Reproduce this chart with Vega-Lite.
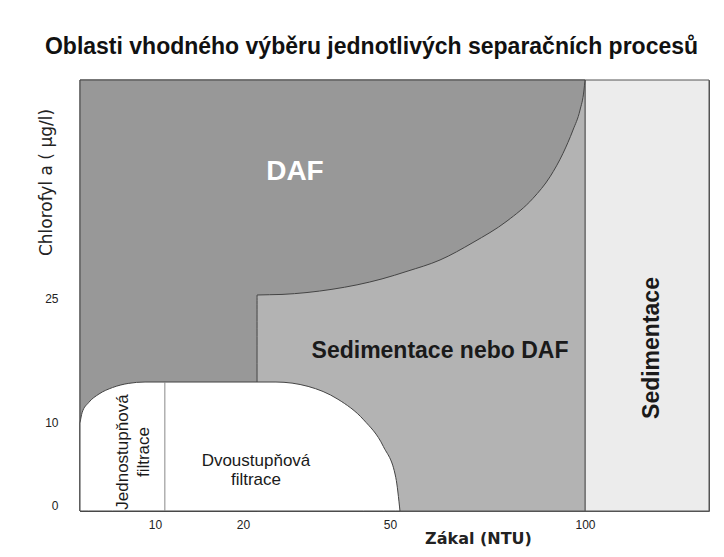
{
  "$schema": "https://vega.github.io/schema/vega-lite/v6.json",
  "width": 629,
  "height": 431,
  "autosize": {"type": "none"},
  "padding": {"left": 80, "top": 80, "right": 15, "bottom": 46},
  "background": "white",
  "config": {
    "view": {"stroke": "#555", "strokeWidth": 1},
    "font": "Liberation Sans"
  },
  "title": {
    "text": "Oblasti vhodného výběru jednotlivých separačních procesů",
    "font": "Liberation Sans",
    "fontSize": 23,
    "fontWeight": "bold",
    "color": "#111",
    "anchor": "middle",
    "dx": -23,
    "baseline": "alphabetic",
    "offset": 1
  },
  "encoding": {
    "x": {
      "field": "x",
      "type": "quantitative",
      "scale": {"domain": [0, 10, 20, 50, 100, 133], "range": [0, 75, 163, 310, 505, 629], "nice": false, "zero": false},
      "axis": {
        "values": [10, 20, 50, 100],
        "ticks": false,
        "domain": false,
        "grid": false,
        "labelFont": "Liberation Sans",
        "labelFontSize": 12,
        "labelColor": "#222",
        "labelPadding": 8,
        "title": "Zákal (NTU)",
        "titleFont": "DejaVu Sans",
        "titleFontSize": 16,
        "titleFontWeight": "bold",
        "titleColor": "#222",
        "titleX": 398,
        "titleY": 27,
        "titleBaseline": "middle",
        "titleAlign": "center"
      }
    },
    "y": {
      "field": "lo",
      "type": "quantitative",
      "scale": {"domain": [-0.7, 51.5], "nice": false, "zero": false},
      "axis": {
        "values": [0, 10, 25],
        "ticks": false,
        "domain": false,
        "grid": false,
        "labelFont": "Liberation Sans",
        "labelFontSize": 12,
        "labelColor": "#222",
        "labelPadding": 22,
        "title": "Chlorofyl a ( µg/l)",
        "titleFont": "DejaVu Sans",
        "titleFontSize": 17,
        "titleFontWeight": "normal",
        "titleColor": "#222",
        "titleAngle": 270,
        "titleX": -34,
        "titleY": 102,
        "titleAlign": "center",
        "titleBaseline": "middle"
      }
    }
  },
  "layer": [
    {
      "data": {"values": [
        {"region": "Sedimentace", "x": 100, "x2": 133, "lo": -0.7, "hi": 51.5},
        {"region": "Sedimentace nebo DAF", "x": 0, "x2": 100, "lo": -0.7, "hi": 51.5}
      ]},
      "mark": {"type": "rect", "stroke": "#555", "strokeWidth": 1},
      "encoding": {
        "x2": {"field": "x2"},
        "y2": {"field": "hi"},
        "color": {
          "field": "region",
          "type": "nominal",
          "scale": {"domain": ["Sedimentace", "Sedimentace nebo DAF"], "range": ["#ececec", "#b3b3b3"]},
          "legend": null
        }
      }
    },
    {
      "data": {"values": [
        {"x": 0, "lo": -0.7, "hi": 51.5},
        {"x": 22.85, "lo": -0.7, "hi": 51.5},
        {"x": 22.87, "lo": 25.46, "hi": 51.5},
        {"x": 27.96, "lo": 25.53, "hi": 51.5},
        {"x": 33.06, "lo": 25.76, "hi": 51.5},
        {"x": 38.16, "lo": 26.15, "hi": 51.5},
        {"x": 43.27, "lo": 26.69, "hi": 51.5},
        {"x": 48.37, "lo": 27.41, "hi": 51.5},
        {"x": 54.36, "lo": 28.33, "hi": 51.5},
        {"x": 62.82, "lo": 29.7, "hi": 51.5},
        {"x": 71.28, "lo": 31.82, "hi": 51.5},
        {"x": 80.0, "lo": 34.42, "hi": 51.5},
        {"x": 86.67, "lo": 37.17, "hi": 51.5},
        {"x": 91.03, "lo": 39.78, "hi": 51.5},
        {"x": 94.36, "lo": 42.62, "hi": 51.5},
        {"x": 96.92, "lo": 45.44, "hi": 51.5},
        {"x": 98.72, "lo": 47.86, "hi": 51.5},
        {"x": 99.74, "lo": 50.28, "hi": 51.5},
        {"x": 100, "lo": 51.5, "hi": 51.5}
      ]},
      "mark": {"type": "area", "color": "#989898", "stroke": "#444", "strokeWidth": 1, "interpolate": "monotone"},
      "encoding": {
        "y2": {"field": "hi"}
      }
    },
    {
      "data": {"values": [
        {"x": 0, "lo": 9.95, "base": -0.7},
        {"x": 0.29, "lo": 11.24, "base": -0.7},
        {"x": 1.16, "lo": 12.44, "base": -0.7},
        {"x": 2.53, "lo": 13.47, "base": -0.7},
        {"x": 4.33, "lo": 14.25, "base": -0.7},
        {"x": 6.43, "lo": 14.75, "base": -0.7},
        {"x": 8.67, "lo": 14.92, "base": -0.7},
        {"x": 26.73, "lo": 14.92, "base": -0.7},
        {"x": 33.29, "lo": 14.39, "base": -0.7},
        {"x": 39.39, "lo": 12.83, "base": -0.7},
        {"x": 44.63, "lo": 10.34, "base": -0.7},
        {"x": 48.65, "lo": 7.11, "base": -0.7},
        {"x": 51.49, "lo": 3.34, "base": -0.7},
        {"x": 52.56, "lo": -0.7, "base": -0.7}
      ]},
      "mark": {"type": "area", "color": "white", "stroke": "#444", "strokeWidth": 1, "interpolate": "monotone"},
      "encoding": {
        "y2": {"field": "base"}
      }
    },
    {
      "data": {"values": [{"x": 11.12, "lo": -0.7, "hi": 14.92}]},
      "mark": {"type": "rule", "color": "#888", "strokeWidth": 1},
      "encoding": {"y2": {"field": "hi"}}
    },
    {
      "data": {"values": [{"x": 30.6, "lo": 40.35, "label": "DAF"}]},
      "mark": {"type": "text", "font": "Liberation Sans", "fontSize": 28, "fontWeight": "bold", "color": "white", "align": "center", "baseline": "middle"},
      "encoding": {"text": {"field": "label"}}
    },
    {
      "data": {"values": [{"x": 62.82, "lo": 18.67, "label": "Sedimentace nebo DAF"}]},
      "mark": {"type": "text", "font": "Liberation Sans", "fontSize": 23, "fontWeight": "bold", "color": "#1a1a1a", "align": "center", "baseline": "middle"},
      "encoding": {"text": {"field": "label"}}
    },
    {
      "data": {"values": [{"x": 117.8, "lo": 19.04, "label": "Sedimentace"}]},
      "mark": {"type": "text", "font": "Liberation Sans", "fontSize": 23, "fontWeight": "bold", "color": "#1a1a1a", "align": "center", "baseline": "middle", "angle": 270},
      "encoding": {"text": {"field": "label"}}
    },
    {
      "data": {"values": [{"x": 5.67, "lo": 6.44, "label": "Jednostupňová\nfiltrace"}]},
      "mark": {"type": "text", "font": "Liberation Sans", "fontSize": 17, "color": "#1a1a1a", "align": "center", "baseline": "middle", "angle": 270, "lineBreak": "\n", "lineHeight": 21},
      "encoding": {"text": {"field": "label"}}
    },
    {
      "data": {"values": [{"x": 22.65, "lo": 5.35, "label": "Dvoustupňová\nfiltrace"}]},
      "mark": {"type": "text", "font": "Liberation Sans", "fontSize": 17, "color": "#1a1a1a", "align": "center", "baseline": "middle", "lineBreak": "\n", "lineHeight": 19},
      "encoding": {"text": {"field": "label"}}
    }
  ]
}
